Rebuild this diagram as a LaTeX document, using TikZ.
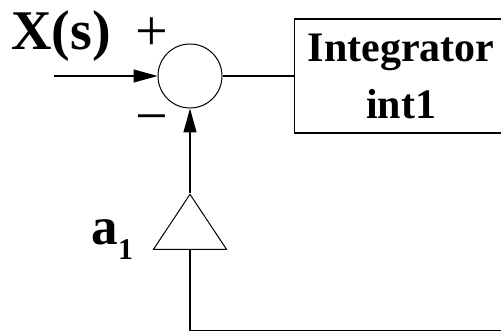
\documentclass[tikz,border=0pt]{standalone}
\usepackage{fontspec}
\setmainfont{Liberation Serif}
\usetikzlibrary{arrows.meta,positioning,shapes.geometric}

\begin{document}
\begin{tikzpicture}[
  x=1pt, y=1pt,
  line width=1.2pt,
  sumnode/.style={draw,circle,minimum size=64pt,inner sep=0pt,line width=1pt},
  blk/.style={draw,align=center,minimum width=214pt,minimum height=114pt,font=\fontsize{42}{57}\selectfont\bfseries},
  gain/.style={draw,isosceles triangle,isosceles triangle stretches,shape border rotate=90,minimum width=73pt,minimum height=55pt,inner sep=0pt,line width=1pt},
  sgn/.style={inner sep=0pt,font=\fontsize{58}{58}\selectfont},
  arr/.style={-{Triangle[length=24pt,width=13pt]}}
]
\useasboundingbox (0,0) rectangle (501,332);
\clip (0,0) rectangle (501,332);
\node[sumnode] (sum) at (190,256) {};
\node[blk, right=71pt of sum] (int) {Integrator\\int1};
\node[gain, anchor=apex] (gain) at (190,139) {};
\coordinate (in) at (54,256);
\coordinate (fb) at (530,1.5);

\node[anchor=base, inner sep=0pt, font=\fontsize{56}{56}\selectfont\bfseries] (xs) at (61,282) {X(s)};
\node[sgn] (plus) at (152,298) {+};
\node[sgn, anchor=base] (minus) at (152,196) {−};
\node[anchor=base west, inner sep=0pt, font=\bfseries] (a1) at (91,87) {\fontsize{53}{53}\selectfont a\raisebox{-15pt}{\fontsize{30}{30}\selectfont 1}};

\draw[arr] (in) -- (sum);
\draw (sum) -- (int);
\draw[arr] (gain.apex) -- (sum);
\draw (gain.south) |- (fb);
\end{tikzpicture}
\end{document}
